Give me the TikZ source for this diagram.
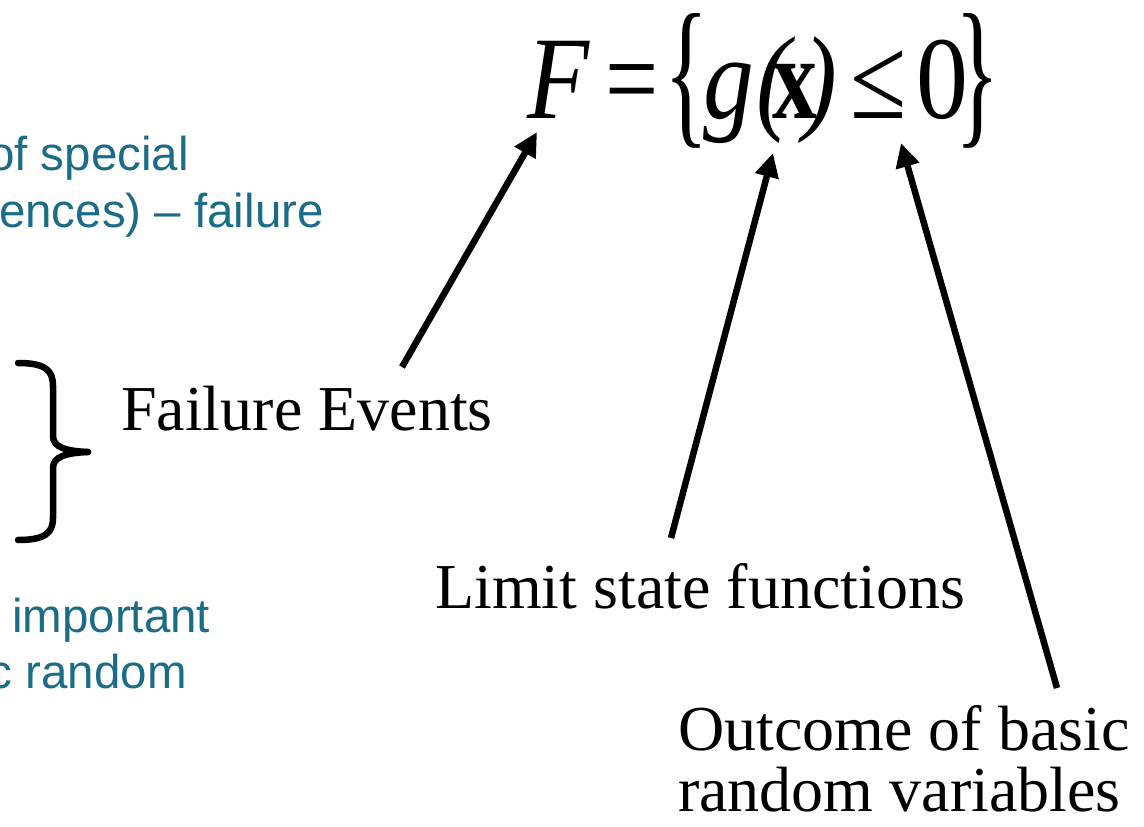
\documentclass[tikz,border=0pt]{standalone}
\usepackage{fontspec}
\setmainfont{Liberation Serif}
\newfontfamily\arialf{Liberation Sans}
\usetikzlibrary{arrows.meta}
\definecolor{tealtxt}{HTML}{1B6C86}
\newcommand{\narrowglyph}[2][0.86]{\scalebox{#1}[1]{#2}}
\tikzset{
  bluetext/.style={inner sep=0pt, text=tealtxt, font=\arialf\fontsize{47.5}{56}\selectfont},
  serif/.style={inner sep=0pt, font=\fontsize{64}{61}\selectfont, align=left},
  sym/.style={inner sep=0pt, anchor=base, font=\fontsize{118}{118}\selectfont},
  bigbrace/.style={inner sep=0pt, font=\fontsize{118}{118}\selectfont},
  ptr/.style={line width=6.5pt, -{Triangle[length=24pt,width=23pt]}},
  bracepath/.style={line width=6.5pt, line cap=round, line join=round}
}
\begin{document}
\begin{tikzpicture}[x=1pt,y=-1pt]
\useasboundingbox (0,0) rectangle (1144,827);
\clip (0,0) rectangle (1144,827);
% teal fragments
\node[bluetext, anchor=base west] (t1) at (-12,170) {of special};
\node[bluetext, anchor=base east] (t2) at (324,227) {ences) – failure};
\node[bluetext, anchor=base west] (t3) at (12,632) {important};
\node[bluetext, anchor=base east] (t4) at (187,688) {c random};
% left brace
\draw[bracepath] (18,363) .. controls (45,363) and (53,370) .. (53,386) -- (53,436)
   .. controls (53,447) and (65,451) .. (88,452);
\draw[bracepath] (88,452) .. controls (65,453) and (53,457) .. (53,468) -- (53,518)
   .. controls (53,533) and (45,540) .. (18,540);
% labels
\node[serif, anchor=base west] (fe) at (121,430) {Failure Events};
\node[serif, anchor=base west] (lsf) at (435,608) {Limit state functions};
\node[serif, anchor=north west] (obr) at (678,705) {Outcome of basic\\random variables};
% formula
\node[sym] (F) at (558,118) {\narrowglyph{\itshape F}};
\node[sym] (eq) at (632.5,118) {\narrowglyph[0.8]{=}};
\node[bigbrace] (lb) at (687,81) {\scalebox{0.78}[1.38]{\{}};
\node[sym] (g) at (729,118) {\narrowglyph{\itshape g}};
\node[sym] (lp) at (773,118) {\narrowglyph{\itshape (}};
\node[sym] (xx) at (795,118) {\narrowglyph[0.76]{\bfseries x}};
\node[sym] (rp) at (820,118) {\narrowglyph{\itshape )}};
\node[sym] (le) at (879,118) {\narrowglyph[0.87]{≤}};
\node[sym] (zero) at (942.5,118) {\narrowglyph[0.88]{0}};
\node[bigbrace] (rb) at (978,81) {\scalebox{0.78}[1.38]{\}}};
% arrows
\coordinate (a1s) at (402,367);
\coordinate (a1e) at (537,132);
\coordinate (a2s) at (671,538);
\coordinate (a2e) at (773,153);
\coordinate (a3s) at (1057,688);
\coordinate (a3e) at (901,143);
\draw[ptr] (a1s) -- (a1e);
\draw[ptr] (a2s) -- (a2e);
\draw[ptr] (a3s) -- (a3e);
\end{tikzpicture}
\end{document}
